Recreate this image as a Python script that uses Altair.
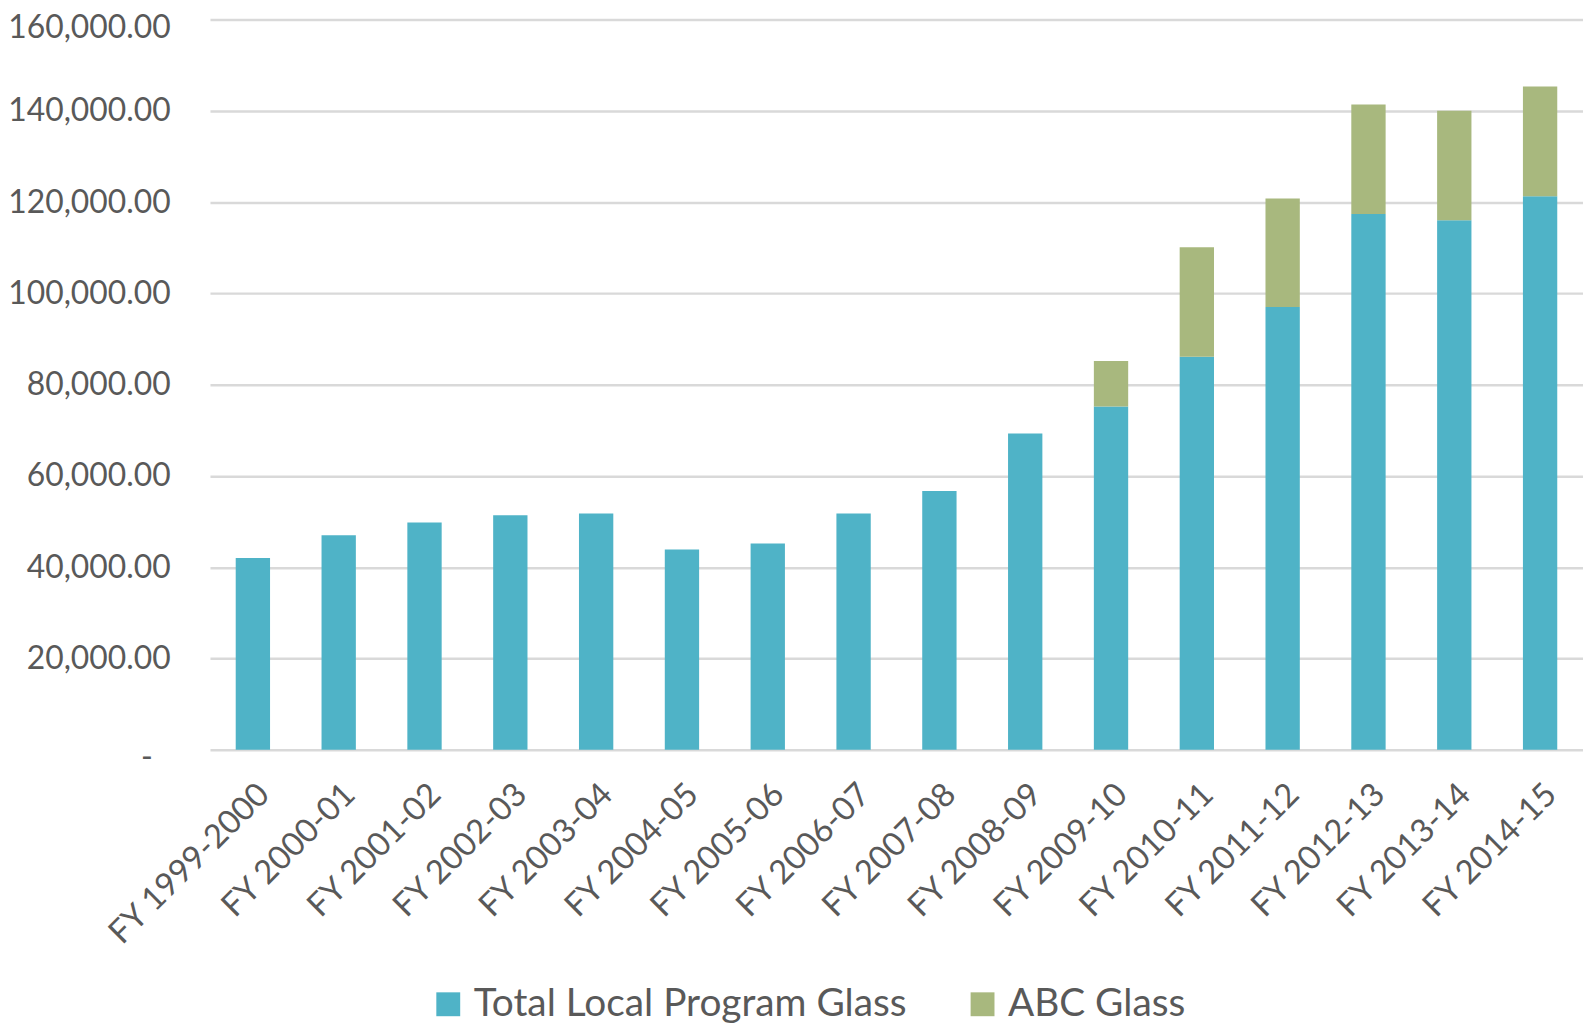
import altair as alt
import pandas as pd

categories = ["FY 1999-2000", "FY 2000-01", "FY 2001-02", "FY 2002-03", "FY 2003-04",
              "FY 2004-05", "FY 2005-06", "FY 2006-07", "FY 2007-08", "FY 2008-09",
              "FY 2009-10", "FY 2010-11", "FY 2011-12", "FY 2012-13", "FY 2013-14",
              "FY 2014-15"]
local_glass = [42000, 47000, 49800, 51400, 51800, 43900, 45200, 51800, 56700, 69300,
               75200, 86100, 97000, 117400, 116000, 121300]
abc_glass = [0, 0, 0, 0, 0, 0, 0, 0, 0, 0,
             10000, 24000, 23800, 24000, 24000, 24000]
series_names = ["Total Local Program Glass", "ABC Glass"]
series_colors = ["#4FB3C7", "#A8B87E"]
y_ticks = [0, 20000, 40000, 60000, 80000, 100000, 120000, 140000, 160000]

rows = []
for c, v in zip(categories, local_glass):
    rows.append({"cat": c, "series": series_names[0], "value": v, "ord": 0})
for c, v in zip(categories, abc_glass):
    if v > 0:
        rows.append({"cat": c, "series": series_names[1], "value": v, "ord": 1})
df = pd.DataFrame(rows)

font = "Lato"
text_color = "#595959"

chart = alt.Chart(df).mark_bar().encode(
    x=alt.X("cat:N", sort=categories, title=None,
            scale=alt.Scale(paddingInner=0.6, paddingOuter=0.3),
            axis=alt.Axis(labelAngle=-45, labelAlign="right", labelBaseline="top",
                          labelPadding=28, ticks=False, domain=False,
                          labelFont=font, labelFontSize=33, labelColor=text_color,
                          labelOverlap=False, labelLimit=400)),
    y=alt.Y("value:Q", stack="zero", title=None,
            scale=alt.Scale(domain=[0, 160000], nice=False),
            axis=alt.Axis(values=y_ticks, ticks=False, domain=False,
                          labelExpr="datum.value == 0 ? '-' : format(datum.value, ',.2f')",
                          labelFont=font, labelFontSize=32, labelColor=text_color,
                          labelPadding={"condition": {"test": "datum.value === 0", "value": 58},
                                        "value": 40},
                          labelOffset={"condition": {"test": "datum.value === 0 || datum.value === 160000",
                                                     "value": 8},
                                       "value": 0},
                          labelLimit=400,
                          gridColor="#D9D9D9", gridWidth=2.5)),
    color=alt.Color("series:N",
                    scale=alt.Scale(domain=series_names, range=series_colors),
                    legend=alt.Legend(title=None, orient="none", direction="horizontal",
                                      legendX=220, legendY=970,
                                      symbolType="square", symbolSize=576,
                                      symbolStrokeWidth=0, symbolOpacity=1,
                                      labelFont=font, labelFontSize=39,
                                      labelColor=text_color, labelOffset=6,
                                      columnPadding=56, padding=0, labelLimit=0)),
    order=alt.Order("ord:Q", sort="ascending"),
).properties(
    width=1380, height=734,
    autosize=alt.AutoSizeParams(type="none"),
    padding={"left": 203, "top": 9, "right": 0, "bottom": 273},
).configure_view(stroke=None)

chart.save("out.html", embed_options={"renderer": "svg", "actions": False})
